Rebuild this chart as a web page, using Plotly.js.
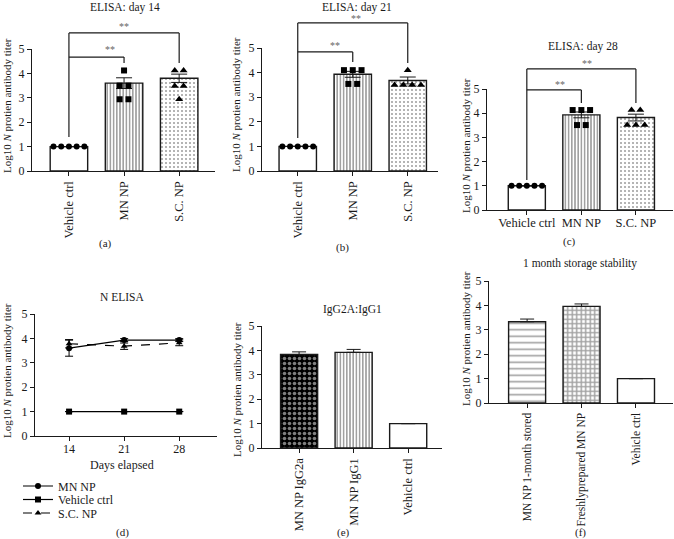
<!DOCTYPE html>
<html><head><meta charset="utf-8">
<script src="https://cdn.plot.ly/plotly-3.0.1.min.js"></script>
<style>html,body{margin:0;padding:0;background:#fff}#chart{width:674px;height:539px}</style>
</head><body><div id="chart"></div>
<script>
// ---------------- data ----------------
const catsABC = ['Vehicle ctrl', 'MN NP', 'S.C. NP'];
const day14Mean = [1.0, 3.6, 3.8];
const day14Sem = [0, 0.22, 0.17];
const day14Vehicle = [1, 1, 1, 1, 1];
const day14MN = [4.12, 3.5, 3.5, 2.94, 2.94];
const day14SC = [4.12, 4.12, 3.48, 3.48, 2.94];

const day21Mean = [1.0, 3.93, 3.68];
const day21Sem = [0, 0.12, 0.14];
const day21Vehicle = [1, 1, 1, 1, 1];
const day21MN = [4.1, 4.1, 4.1, 3.54, 3.54];
const day21SC = [4.1, 3.5, 3.5, 3.5, 3.5];

const day28Mean = [1.0, 3.93, 3.82];
const day28Sem = [0, 0.12, 0.14];
const day28Vehicle = [1, 1, 1, 1, 1];
const day28MN = [4.13, 4.13, 4.13, 3.51, 3.51];
const day28SC = [4.13, 4.13, 3.51, 3.51, 3.51];

const days = [14, 21, 28];
const lineMN = [3.6, 3.93, 3.93];
const lineMNErr = [0.33, 0.06, 0.06];
const lineVeh = [1, 1, 1];
const lineVehErr = [0, 0, 0];
const lineSC = [3.78, 3.68, 3.82];
const lineSCErr = [0.17, 0.13, 0.12];

const catsE = ['MN NP IgG2a', 'MN NP IgG1', 'Vehicle ctrl'];
const igMean = [3.83, 3.92, 1.0];
const igErr = [0.11, 0.12, 0];

const catsF = ['MN NP 1-month stored', 'Freshlyprepared MN NP', 'Vehicle ctrl'];
const storMean = [3.33, 3.96, 1.0];
const storErr = [0.11, 0.1, 0];

// significance brackets: [fromCat, toCat, top, leftLegEnd, rightLegEnd, starX, starY]
const sigA = [[0, 2, 5.66, 1.39, 4.43, 1.0, 5.92], [0, 1, 4.67, 4.67, 4.43, 0.75, 5.0]];
const sigB = [[0, 2, 6.02, 1.34, 4.39, 1.05, 6.2], [0, 1, 4.84, 4.84, 4.43, 0.67, 5.1]];
const sigC = [[0, 2, 5.83, 1.24, 4.42, 1.1, 6.07], [0, 1, 4.96, 4.96, 4.42, 0.6, 5.18]];

// ---------------- layout helpers ----------------
const W = 674, H = 539;
const FONT = '"Liberation Serif", "DejaVu Serif", serif';
const INK = '#1a1a1a';
const panels = {
  a: {ax: '',  px: [32, 215],  py: [171, 49],  xr: [-0.67, 2.65]},
  b: {ax: '2', px: [262, 438], py: [171, 48],  xr: [-0.65, 2.55]},
  c: {ax: '3', px: [487, 673], py: [210, 89],  xr: [-0.73, 2.68]},
  d: {ax: '4', px: [35, 217],  py: [436, 314], xr: [9.67, 32.8]},
  e: {ax: '5', px: [262, 442], py: [448, 326], xr: [-0.68, 2.62]},
  f: {ax: '6', px: [489, 673], py: [403, 281], xr: [-0.70, 2.68]}
};
const Y_RANGE = [0, 5];
function ydom(p) { return [1 - p.py[0] / H, 1 - p.py[1] / H]; }
function yPaper(p, v) { const d = ydom(p); return d[0] + (v - Y_RANGE[0]) / (Y_RANGE[1] - Y_RANGE[0]) * (d[1] - d[0]); }

const layout = {
  width: W, height: H,
  margin: {l: 0, r: 0, t: 0, b: 0},
  paper_bgcolor: '#fff', plot_bgcolor: 'rgba(0,0,0,0)',
  font: {family: FONT, size: 11, color: INK},
  showlegend: true,
  shapes: [], annotations: []
};

function addAxes(p, xopts) {
  const xa = Object.assign({
    domain: [p.px[0] / W, p.px[1] / W], range: p.xr, anchor: 'y' + p.ax,
    showline: true, linecolor: INK, linewidth: 1.2, ticks: 'outside', ticklen: 4, tickwidth: 1,
    tickcolor: INK, showgrid: false, zeroline: false, fixedrange: true, tickfont: {size: 12.5, family: FONT, color: INK}
  }, xopts);
  const ya = {
    domain: ydom(p), range: Y_RANGE, anchor: 'x' + p.ax, tickvals: [0, 1, 2, 3, 4, 5],
    showline: true, linecolor: INK, linewidth: 1.2, ticks: 'outside', ticklen: 4, tickwidth: 1,
    tickcolor: INK, showgrid: false, zeroline: false, fixedrange: true, tickfont: {size: 12, family: FONT, color: INK}
  };
  layout['xaxis' + p.ax] = xa;
  layout['yaxis' + p.ax] = ya;
}

function catAxis(p, cats, angle, extra) {
  addAxes(p, Object.assign({tickvals: cats.map((c, i) => i), ticktext: cats, tickangle: angle}, extra || {}));
}

function barTrace(p, cats, means, errs, styles, twoSided) {
  return {
    type: 'bar', x: cats.map((c, i) => i), y: means, width: 0.68,
    xaxis: 'x' + p.ax, yaxis: 'y' + p.ax, showlegend: false, hoverinfo: 'skip',
    marker: {
      color: styles.map(s => s.bg),
      line: {color: INK, width: 1.4},
      pattern: {
        shape: styles.map(s => s.shape),
        fgcolor: styles.map(s => s.fg),
        bgcolor: styles.map(s => s.bg),
        size: styles.map(s => s.size),
        solidity: styles.map(s => s.sol),
        fillmode: 'overlay'
      }
    },
    error_y: {
      type: 'data', array: errs, symmetric: false,
      arrayminus: twoSided ? errs : errs.map(() => 0),
      color: INK, thickness: 1, width: twoSided ? 8 : 7
    }
  };
}

// spread points of equal value horizontally around the category centre
function spread(vals, idx, step) {
  const groups = {};
  vals.forEach((v, i) => { (groups[v] = groups[v] || []).push(i); });
  const xs = new Array(vals.length);
  Object.values(groups).forEach(g => {
    g.forEach((i, k) => { xs[i] = idx + (k - (g.length - 1) / 2) * step; });
  });
  return xs;
}
function pointsTrace(p, vals, idx, symbol, step) {
  return {
    type: 'scatter', mode: 'markers', x: spread(vals, idx, step), y: vals,
    xaxis: 'x' + p.ax, yaxis: 'y' + p.ax, showlegend: false, hoverinfo: 'skip', cliponaxis: false,
    marker: {symbol: symbol, size: symbol === 'triangle-up' ? 7 : 6, color: '#000', line: {width: 0}}
  };
}

function addBrackets(p, sigs) {
  const xr = 'x' + p.ax;
  sigs.forEach(s => {
    const [a, b, top, legA, legB, sx, sy] = s;
    const line = {color: INK, width: 1.2};
    layout.shapes.push({type: 'line', xref: xr, yref: 'paper', x0: a, x1: b, y0: yPaper(p, top), y1: yPaper(p, top), line});
    if (legA !== top) layout.shapes.push({type: 'line', xref: xr, yref: 'paper', x0: a, x1: a, y0: yPaper(p, top), y1: yPaper(p, legA), line});
    layout.shapes.push({type: 'line', xref: xr, yref: 'paper', x0: b, x1: b, y0: yPaper(p, top), y1: yPaper(p, legB), line});
    layout.annotations.push({xref: xr, yref: 'paper', x: sx, y: yPaper(p, sy), text: '**', showarrow: false,
      font: {size: 10, color: '#666', family: FONT}, xanchor: 'center', yanchor: 'middle'});
  });
}

function textAt(txt, xpx, ypx, size, angle) {
  layout.annotations.push({xref: 'paper', yref: 'paper', x: xpx / W, y: 1 - ypx / H, text: txt, showarrow: false,
    xanchor: 'center', yanchor: 'middle', textangle: angle || 0, font: {size: size, family: FONT, color: INK}});
}

const S_WHITE = {shape: '', bg: '#ffffff', fg: '#000', size: 4, sol: 0.3};
const S_VLINES = {shape: '|', bg: '#ffffff', fg: '#000', size: 3.2, sol: 0.5};
const S_DOTS = {shape: '.', bg: '#ffffff', fg: '#333', size: 4, sol: 0.22};
const S_DARKCHECK = {shape: '.', bg: '#000000', fg: '#ffffff', size: 5, sol: 0.4};
const S_CHECK = {shape: '+', bg: '#ffffff', fg: '#000', size: 4.5, sol: 0.55};
const S_HLINES = {shape: '-', bg: '#ffffff', fg: '#000', size: 6.5, sol: 0.25};

const traces = [];
const YT = 'Log10 <i>N</i> protien antibody titer';

// ----- panels a, b, c -----
[[panels.a, day14Mean, day14Sem, day14Vehicle, day14MN, day14SC, sigA, -90, {}],
 [panels.b, day21Mean, day21Sem, day21Vehicle, day21MN, day21SC, sigB, -90, {}],
 [panels.c, day28Mean, day28Sem, day28Vehicle, day28MN, day28SC, sigC, 0, {ticklabelstandoff: -3}]].forEach(cfg => {
  const [p, mean, sem, veh, mn, sc, sig, ang, extra] = cfg;
  catAxis(p, catsABC, ang, extra);
  traces.push(barTrace(p, catsABC, mean, sem, [S_WHITE, S_VLINES, S_DOTS], true));
  traces.push(pointsTrace(p, veh, 0, 'circle', 0.14));
  traces.push(pointsTrace(p, mn, 1, 'square', 0.16));
  traces.push(pointsTrace(p, sc, 2, 'triangle-up', 0.16));
  addBrackets(p, sig);
});

// ----- panel d -----
addAxes(panels.d, {tickvals: days, ticklabelstandoff: -3, tickfont: {size: 12, family: FONT, color: INK}});
[['MN NP', lineMN, lineMNErr, 'circle', 'solid', 'legend'],
 ['Vehicle ctrl', lineVeh, lineVehErr, 'square', 'solid', 'legend2'],
 ['S.C. NP', lineSC, lineSCErr, 'triangle-up', 'dash', 'legend3']].forEach(s => {
  traces.push({
    type: 'scatter', mode: 'lines+markers', name: s[0], x: days, y: s[1],
    xaxis: 'x4', yaxis: 'y4', legend: s[5], hoverinfo: 'skip',
    line: {color: '#000', width: 1.2, dash: s[4]},
    marker: {symbol: s[3], size: 6, color: '#000'},
    error_y: {type: 'data', array: s[2], color: '#000', thickness: 1, width: 4}
  });
});
[['legend', 486], ['legend2', 499.5], ['legend3', 513]].forEach(l => {
  layout[l[0]] = {x: 18 / W, y: 1 - l[1] / H, xanchor: 'left', yanchor: 'middle', bgcolor: 'rgba(0,0,0,0)',
    borderwidth: 0, font: {size: 12, family: FONT, color: INK}, itemwidth: 30};
});

// ----- panel e -----
catAxis(panels.e, catsE, -90);
traces.push(barTrace(panels.e, catsE, igMean, igErr, [S_DARKCHECK, S_VLINES, S_WHITE], false));

// ----- panel f -----
catAxis(panels.f, catsF, -90, {tickfont: {size: 11.5, family: FONT, color: INK}});
traces.push(barTrace(panels.f, catsF, storMean, storErr, [S_HLINES, S_CHECK, S_WHITE], false));

// ----- titles and labels -----
textAt('ELISA: day 14', 125, 7, 11.5);
textAt('ELISA: day 21', 357, 7, 11.5);
textAt('ELISA: day 28', 583, 47, 11.5);
textAt('N ELISA', 122, 297, 11.5);
textAt('IgG2A:IgG1', 352, 309, 11.5);
textAt('1 month storage stability', 580, 263, 11.5);
textAt('Days elapsed', 122, 465, 12);

textAt(YT, 7, 106, 11, -90);
textAt(YT, 236, 105, 11, -90);
textAt(YT, 466, 146, 11, -90);
textAt(YT, 7, 371, 11, -90);
textAt(YT, 237, 390, 11, -90);
textAt(YT, 466, 339, 11, -90);

textAt('(a)', 105, 243, 11);
textAt('(b)', 342, 247, 11);
textAt('(c)', 569, 241, 11);
textAt('(d)', 122, 532, 11);
textAt('(e)', 343, 532, 11);
textAt('(f)', 580, 532, 11);

Plotly.newPlot('chart', traces, layout, {staticPlot: true, displayModeBar: false});
</script>
</body></html>
